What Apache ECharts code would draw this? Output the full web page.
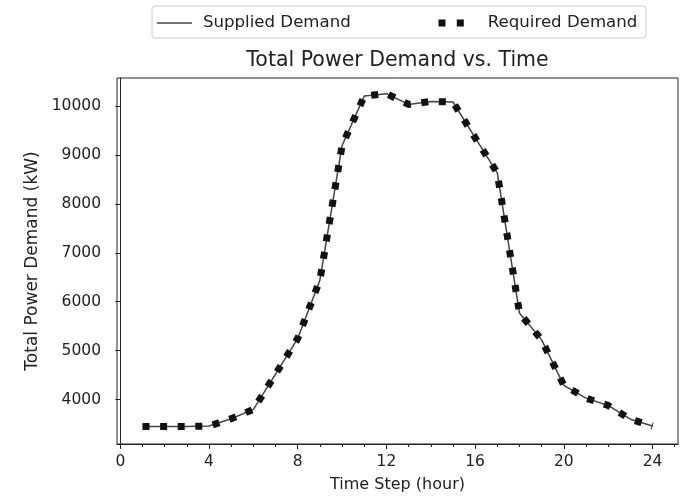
<!DOCTYPE html>
<html>
<head>
<meta charset="utf-8">
<script src="https://cdn.jsdelivr.net/npm/echarts@6/dist/echarts.min.js"></script>
<style>html,body{margin:0;padding:0;background:#fff}#c{width:685px;height:498px}</style>
</head>
<body>
<div id="c"></div>
<script>
const hours = [1,2,3,4,5,6,7,8,9,10,11,12,13,14,15,16,17,18,19,20,21,22,23,24];
const suppliedDemand = [3450,3450,3450,3460,3610,3800,4520,5250,6440,9190,10200,10250,10030,10090,10080,9350,8630,5770,5220,4290,4030,3880,3600,3460];
const requiredDemand = [3450,3450,3450,3460,3610,3800,4520,5250,6440,9190,10200,10250,10030,10090,10080,9350,8630,5770,5220,4290,4030,3880,3600,3460];
const xMajorTicks = [0,4,8,12,16,20,24];
const xMinorTicks = [0,1,2,3,4,5,6,7,8,9,10,11,12,13,14,15,16,17,18,19,20,21,22,23,24,25];
const yTicks = [4000,5000,6000,7000,8000,9000,10000];
const seriesNames = ['Supplied Demand','Required Demand'];
const titleText = 'Total Power Demand vs. Time';
const xName = 'Time Step (hour)';
const yName = 'Total Power Demand (kW)';

const FONT = 'DejaVu Sans';
const TXT = '#222';
const chart = echarts.init(document.getElementById('c'), null, {renderer:'canvas'});
const pairs = arr => hours.map((h,i)=>[h, arr[i]]);
chart.setOption({
  animation:false,
  title:{text:titleText, left:397.5, top:50, textAlign:'center', padding:0,
    textStyle:{fontFamily:FONT, fontSize:20.5, fontWeight:'normal', color:TXT}},
  graphic:[{type:'rect', shape:{x:152, y:6, width:494, height:32, r:3},
    style:{fill:'transparent', stroke:'#cccccc', lineWidth:1}, z:0}],
  legend:[
    {data:[{name:seriesNames[0], icon:'path://M0,0H35V1.5H0Z'}], left:157, top:14.5, padding:0, itemWidth:35, itemHeight:14,
      textStyle:{fontFamily:FONT, fontSize:16.6, color:TXT, padding:[0,0,0,6]}},
    {data:[{name:seriesNames[1], icon:'path://M0,0H7V7H0Z M18.3,0H25.3V7H18.3Z'}], left:438.5, top:14.5, padding:0, itemWidth:25.3, itemHeight:7,
      textStyle:{fontFamily:FONT, fontSize:16.6, color:TXT, padding:[0,0,0,19]}}
  ],
  grid:{left:117, right:7, top:78, bottom:53, show:true, borderColor:'#222', borderWidth:1, backgroundColor:'transparent'},
  xAxis:[
    {type:'value', min:-0.15, max:25.15, name:xName, nameLocation:'middle', nameGap:33, nameMoveOverlap:false,
      nameTextStyle:{fontFamily:FONT, fontSize:16, color:TXT},
      axisLine:{lineStyle:{color:'#222', width:1}},
      axisTick:{show:true, length:5, customValues:xMajorTicks, lineStyle:{color:'#222'}},
      axisLabel:{customValues:xMajorTicks, margin:10, fontFamily:FONT, fontSize:15.5, color:TXT},
      splitLine:{show:false}},
    {type:'value', min:-0.15, max:25.15, position:'bottom', gridIndex:0,
      axisLine:{show:false},
      axisTick:{show:true, length:3, customValues:xMinorTicks, lineStyle:{color:'#222'}},
      axisLabel:{show:false}, splitLine:{show:false}}
  ],
  yAxis:{type:'value', min:3093, max:10570, name:yName, nameLocation:'middle', nameGap:76, nameRotate:90, nameMoveOverlap:false,
    nameTextStyle:{fontFamily:FONT, fontSize:17, color:TXT},
    axisLine:{show:true, lineStyle:{color:'#222', width:1}},
    axisTick:{show:true, length:5, customValues:yTicks, lineStyle:{color:'#222'}},
    axisLabel:{customValues:yTicks, margin:16, fontFamily:FONT, fontSize:15.5, color:TXT, formatter:v=>String(v)},
    splitLine:{show:false}},
  series:[
    {name:seriesNames[0], type:'line', data:pairs(suppliedDemand), symbol:'none', xAxisIndex:0,
      lineStyle:{color:'#444', width:1.5}, itemStyle:{color:'#444'}, z:2},
    {name:seriesNames[1], type:'line', data:pairs(requiredDemand), symbol:'none', xAxisIndex:0,
      lineStyle:{color:'#111', width:7, type:[7,10.6], cap:'butt', join:'miter'}, itemStyle:{color:'#111'}, z:3}
  ]
});
</script>
</body>
</html>
